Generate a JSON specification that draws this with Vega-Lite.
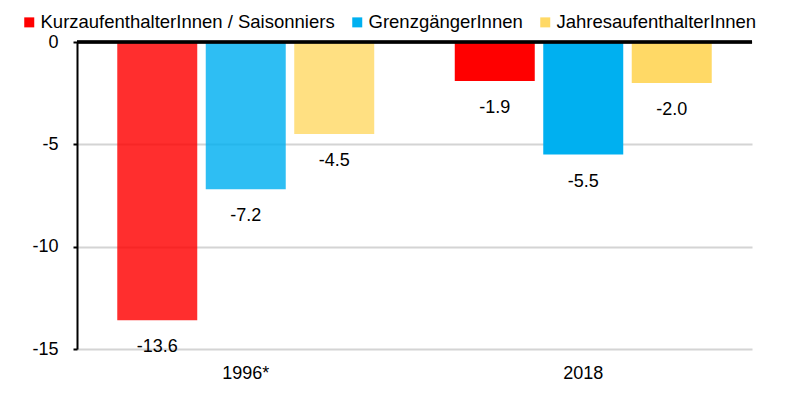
{
  "$schema": "https://vega.github.io/schema/vega-lite/v6.json",
  "width": 675,
  "height": 307,
  "autosize": {"type": "none"},
  "padding": {"left": 77, "top": 42, "right": 46, "bottom": 44},
  "background": "#ffffff",
  "config": {"font": "Liberation Sans", "view": {"stroke": null}},
  "data": {
    "values": [
      {"jahr": "1996*", "gruppe": "KurzaufenthalterInnen / Saisonniers", "wert": -13.6, "label": "-13.6", "muster": "gepunktet"},
      {"jahr": "1996*", "gruppe": "GrenzgängerInnen", "wert": -7.2, "label": "-7.2", "muster": "gepunktet"},
      {"jahr": "1996*", "gruppe": "JahresaufenthalterInnen", "wert": -4.5, "label": "-4.5", "muster": "gepunktet"},
      {"jahr": "2018", "gruppe": "KurzaufenthalterInnen / Saisonniers", "wert": -1.9, "label": "-1.9", "muster": "voll"},
      {"jahr": "2018", "gruppe": "GrenzgängerInnen", "wert": -5.5, "label": "-5.5", "muster": "voll"},
      {"jahr": "2018", "gruppe": "JahresaufenthalterInnen", "wert": -2.0, "label": "-2.0", "muster": "voll"}
    ]
  },
  "encoding": {
    "x": {
      "field": "jahr", "type": "nominal", "sort": ["1996*", "2018"],
      "scale": {"paddingInner": 0, "paddingOuter": 0},
      "axis": {"title": null, "labelAngle": 0, "domain": false, "ticks": false, "labelFontSize": 18, "labelPadding": 15, "labelColor": "#000000"}
    },
    "xOffset": {
      "field": "gruppe", "type": "nominal",
      "sort": ["KurzaufenthalterInnen / Saisonniers", "GrenzgängerInnen", "JahresaufenthalterInnen"],
      "scale": {"paddingInner": 0.096, "paddingOuter": 0.455}
    },
    "y": {
      "field": "wert", "type": "quantitative",
      "scale": {"domain": [-15, 0], "nice": false},
      "axis": {
        "title": null, "values": [-15, -10, -5, 0],
        "labelExpr": "datum.value < 0 ? '-' + abs(datum.value) : '' + datum.value",
        "labelFontSize": 18, "labelColor": "#000000", "labelPadding": 15,
        "tickSize": 4, "tickColor": "#000000", "tickWidth": 2,
        "domainColor": "#000000", "domainWidth": 2,
        "gridColor": "#d4d4d4", "gridWidth": 2
      }
    }
  },
  "layer": [
    {
      "mark": {"type": "bar"},
      "encoding": {
        "color": {
          "field": "gruppe", "type": "nominal",
          "scale": {
            "domain": ["KurzaufenthalterInnen / Saisonniers", "GrenzgängerInnen", "JahresaufenthalterInnen"],
            "range": ["#ff0000", "#00b0f0", "#ffd966"]
          },
          "legend": {
            "orient": "none", "legendX": -57, "legendY": -29, "direction": "horizontal",
            "title": null, "symbolType": "square", "symbolSize": 100, "symbolStrokeWidth": 0,
            "labelFontSize": 18.5, "labelLimit": 0, "labelColor": "#000000", "columnPadding": 13, "labelOffset": 2
          }
        },
        "opacity": {
          "field": "muster", "type": "nominal",
          "scale": {"domain": ["gepunktet", "voll"], "range": [0.82, 1]},
          "legend": null
        }
      }
    },
    {
      "mark": {"type": "text", "baseline": "middle", "dy": 27, "fontSize": 18, "color": "#000000"},
      "encoding": {"text": {"field": "label"}}
    },
    {
      "mark": {"type": "rule", "color": "#000000", "strokeWidth": 2.5},
      "encoding": {"y": {"datum": 0}, "x": null, "xOffset": null}
    }
  ]
}
